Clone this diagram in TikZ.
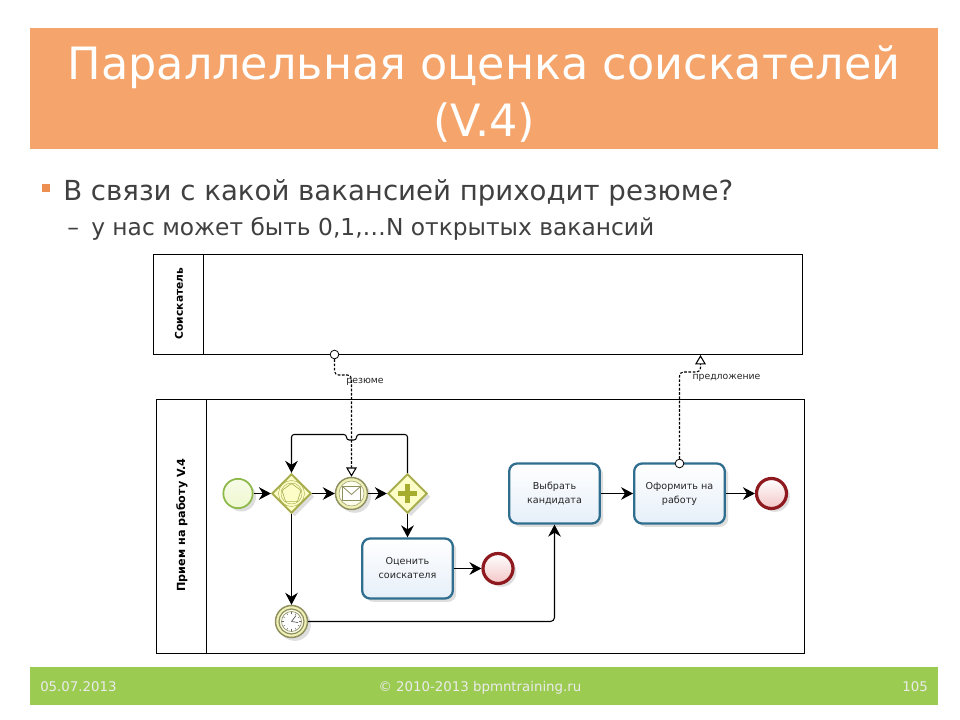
\documentclass[tikz,border=0pt]{standalone}
\usepackage{fontspec}
\setmainfont{DejaVu Sans}
\usetikzlibrary{arrows.meta,shapes.geometric,shadows}
\definecolor{titleor}{HTML}{F5A56C}
\definecolor{footgr}{HTML}{9CCB52}
\definecolor{bodytx}{HTML}{404040}
\definecolor{bulletc}{HTML}{EE8F52}
\definecolor{taskb}{HTML}{2F6E8E}
\definecolor{taskf}{HTML}{E6EFF9}
\definecolor{gwb}{HTML}{A8AE4E}
\definecolor{gwf}{HTML}{FDFDC8}
\definecolor{startb}{HTML}{8DB84A}
\definecolor{startf}{HTML}{EEF8CF}
\definecolor{endb}{HTML}{8E1A1F}
\definecolor{endf}{HTML}{F3C6C6}
\definecolor{interb}{HTML}{8F9060}
\definecolor{pluscol}{HTML}{A5AC2E}
\tikzset{
  softshadow/.style={drop shadow={shadow xshift=2.5pt,shadow yshift=-2.5pt,opacity=.18,fill=black!70}},
  taskbox/.style={draw=taskb,line width=1.7pt,rounded corners=6pt,minimum width=68pt,minimum height=45pt,inner sep=0pt,
    top color=white,bottom color=taskf,align=center,font=\fontsize{7.2}{10.5}\selectfont,text=black!85,softshadow},
  startev/.style={circle,draw=startb,line width=1.3pt,minimum size=22pt,inner sep=0pt,top color=white!50!startf,bottom color=startf,softshadow},
  endev/.style={circle,draw=endb,line width=2.4pt,minimum size=22.5pt,inner sep=0pt,top color=white,bottom color=endf,softshadow},
  interev/.style={circle,draw=interb,line width=1.1pt,minimum size=24pt,inner sep=0pt,fill=gwf!85!gwb,softshadow},
  gateway/.style={diamond,aspect=1,draw=gwb,line width=1.5pt,minimum size=29.5pt,inner sep=0pt,fill=gwf,softshadow},
  pool/.style={draw=black,line width=.8pt,fill=white},
  flow/.style={draw=black,line width=.8pt,-{Stealth[length=9pt,width=9.5pt,inset=3pt]}},
  msgflow/.style={draw=black,line width=.8pt,dash pattern=on 2pt off 1.2pt,-{Triangle[open,fill=white,length=7pt,width=8pt]}},
  msgstart/.style={circle,draw=black,line width=.6pt,fill=white,minimum size=6.5pt,inner sep=0pt},
  pooltitle/.style={rotate=90,text=black},
  flowlabel/.style={font=\fontsize{7}{9}\selectfont,text=black!85},
  icon/.style={line width=.35pt},
}
\begin{document}
\begin{tikzpicture}[x=.75pt,y=-.75pt]
\useasboundingbox (0,0) rectangle (960,720);
\fill[white] (0,0) rectangle (960,720);
% title and footer bands
\node[fill=titleor,minimum width=681pt,minimum height=90.75pt,inner sep=0pt,anchor=north west] (band) at (30,28) {};
\node[fill=footgr,minimum width=681pt,minimum height=28.5pt,inner sep=0pt,anchor=north west] (foot) at (30,667) {};
\node[anchor=base,text=white,font=\fontsize{33.4}{40}\selectfont,inner sep=0pt] (t1) at (484,80) {Параллельная оценка соискателей};
\node[anchor=base,text=white,font=\fontsize{33.4}{40}\selectfont,inner sep=0pt] (t2) at (484,137) {(V.4)};
% bullets
\node[fill=bulletc,minimum size=6pt,inner sep=0pt] (b1) at (46,188.5) {};
\node[anchor=base west,text=bodytx,font=\fontsize{20.7}{24}\selectfont,inner sep=0pt] (l1) at (63,201) {В связи с какой вакансией приходит резюме?};
\node[anchor=base west,text=bodytx,font=\fontsize{17.5}{20}\selectfont,inner sep=0pt] (l2d) at (67,236) {–};
\node[anchor=base west,text=bodytx,font=\fontsize{17.5}{20}\selectfont,inner sep=0pt] (l2) at (91,236) {у нас может быть 0,1,…N открытых вакансий};
% footer text
\node[anchor=base west,text=white!92!black,font=\fontsize{10}{11}\selectfont,inner sep=0pt] (f1) at (40,691) {05.07.2013};
\node[anchor=base,text=white!92!black,font=\fontsize{10}{11}\selectfont,inner sep=0pt] (f2) at (480,691) {© 2010-2013 bpmntraining.ru};
\node[anchor=base east,text=white!92!black,font=\fontsize{10}{11}\selectfont,inner sep=0pt] (f3) at (928,691) {105};
% pools
\node[pool,minimum width=486.75pt,minimum height=75pt,inner sep=0pt,anchor=north west] (poolA) at (153,254) {};
\node[pool,minimum width=486pt,minimum height=190.5pt,inner sep=0pt,anchor=north west] (poolB) at (155.5,398.5) {};
\coordinate (divAt) at (203.4,254.5); \coordinate (divAb) at (203.4,354);
\coordinate (divBt) at (206.5,399); \coordinate (divBb) at (206.5,653);
\draw[line width=.8pt] (divAt) -- (divAb);
\draw[line width=.8pt] (divBt) -- (divBb);
\node[pooltitle,font=\fontsize{8}{9}\bfseries\selectfont] (pa) at (179,303.5) {Соискатель};
\node[pooltitle,font=\fontsize{8.4}{9}\bfseries\selectfont] (pb) at (182,525) {Прием на работу V.4};
% events and gateways
\node[startev] (start) at (238,493.5) {};
\node[gateway] (gw) at (291.5,493.5) {};
\node[interev] (msg) at (351.5,493.5) {};
\node[gateway] (par) at (407.5,493.5) {};
\node[interev] (timer) at (291.5,621.5) {};
\node[taskbox] (assess) at (407.5,568.5) {Оценить\\соискателя};
\node[endev] (end1) at (498,568.5) {};
\node[taskbox] (choose) at (554.5,493.5) {Выбрать\\кандидата};
\node[taskbox] (offer) at (679.5,493.5) {Оформить на\\работу};
\node[endev] (end2) at (771.5,493.5) {};
% gateway icon
\draw[icon,draw=gwb] (gw) circle (10.5);
\draw[icon,draw=gwb] (gw) circle (13);
\node[regular polygon,regular polygon sides=5,draw=gwb,line width=.5pt,minimum size=15pt,inner sep=0pt] (pent) at (gw) {};
% plus icon
\draw[pluscol,line width=4.2pt] ([xshift=-7.2pt]par.center) -- ([xshift=7.2pt]par.center);
\draw[pluscol,line width=4.2pt] ([yshift=-7.2pt]par.center) -- ([yshift=7.2pt]par.center);
% message catch icon
\draw[icon,draw=interb,fill=white!70!gwf] (msg) circle (12.5);
\draw[line width=.6pt,draw=interb,fill=white] (342.5,486.5) rectangle (360.5,500.5);
\draw[line width=.6pt,draw=interb] (342.5,486.5) -- (351.5,494.5) -- (360.5,486.5);
% timer icon
\draw[line width=.9pt,draw=interb,fill=white!70!gwf] (timer) circle (12.5);
\draw[line width=.5pt,draw=interb,fill=white] (timer) circle (10);
\foreach \a in {0,30,...,330}{\draw[line width=.3pt,draw=black!60] ([shift={(\a:9.2)}]timer.center) -- ([shift={(\a:7.4)}]timer.center);}
\draw[line width=.45pt,black!75] (timer.center) -- ++(4.5,-6);
\draw[line width=.45pt,black!75] (timer.center) -- ++(6.5,1);
% sequence flows
\draw[flow] (start) -- (gw);
\draw[flow] (gw) -- (msg);
\draw[flow] (msg) -- (par);
\draw[flow] (par) -- (assess);
\draw[flow] (assess) -- (end1);
\draw[flow] (choose) -- (offer);
\draw[flow] (offer) -- (end2);
\draw[flow] (gw) -- (timer);
\coordinate (tc) at (554.5,621.5);
\draw[flow,rounded corners=3pt] (timer) -- (tc) -- (choose.south);
\coordinate (loopR) at (407.5,434.5); \coordinate (hopR) at (356.5,434.5); \coordinate (hopRb) at (356.5,440);
\coordinate (hopLb) at (346.5,440); \coordinate (hopL) at (346.5,434.5); \coordinate (loopL) at (291.5,434.5);
\draw[flow,rounded corners=2pt] (par.north) -- (loopR) -- (hopR) -- (hopRb) -- (hopLb) -- (hopL) -- (loopL) -- (gw.north);
% message flows
\node[msgstart] (m1) at (334.5,354.5) {};
\node[msgstart] (m2) at (679.5,463.5) {};
\coordinate (m1a) at (334.5,375); \coordinate (m1b) at (351.5,375);
\draw[msgflow,rounded corners=3pt] (m1) -- (m1a) -- (m1b) -- (msg.north);
\coordinate (m2a) at (679.5,372); \coordinate (m2b) at (700.5,372); \coordinate (m2c) at (700.5,355);
\draw[msgflow,rounded corners=3pt] (m2) -- (m2a) -- (m2b) -- (m2c);
\node[flowlabel,anchor=center,inner sep=0pt] (lab1) at (365,382) {резюме};
\node[flowlabel,anchor=center,inner sep=0pt] (lab2) at (726.5,378) {предложение};
\end{tikzpicture}
\end{document}
